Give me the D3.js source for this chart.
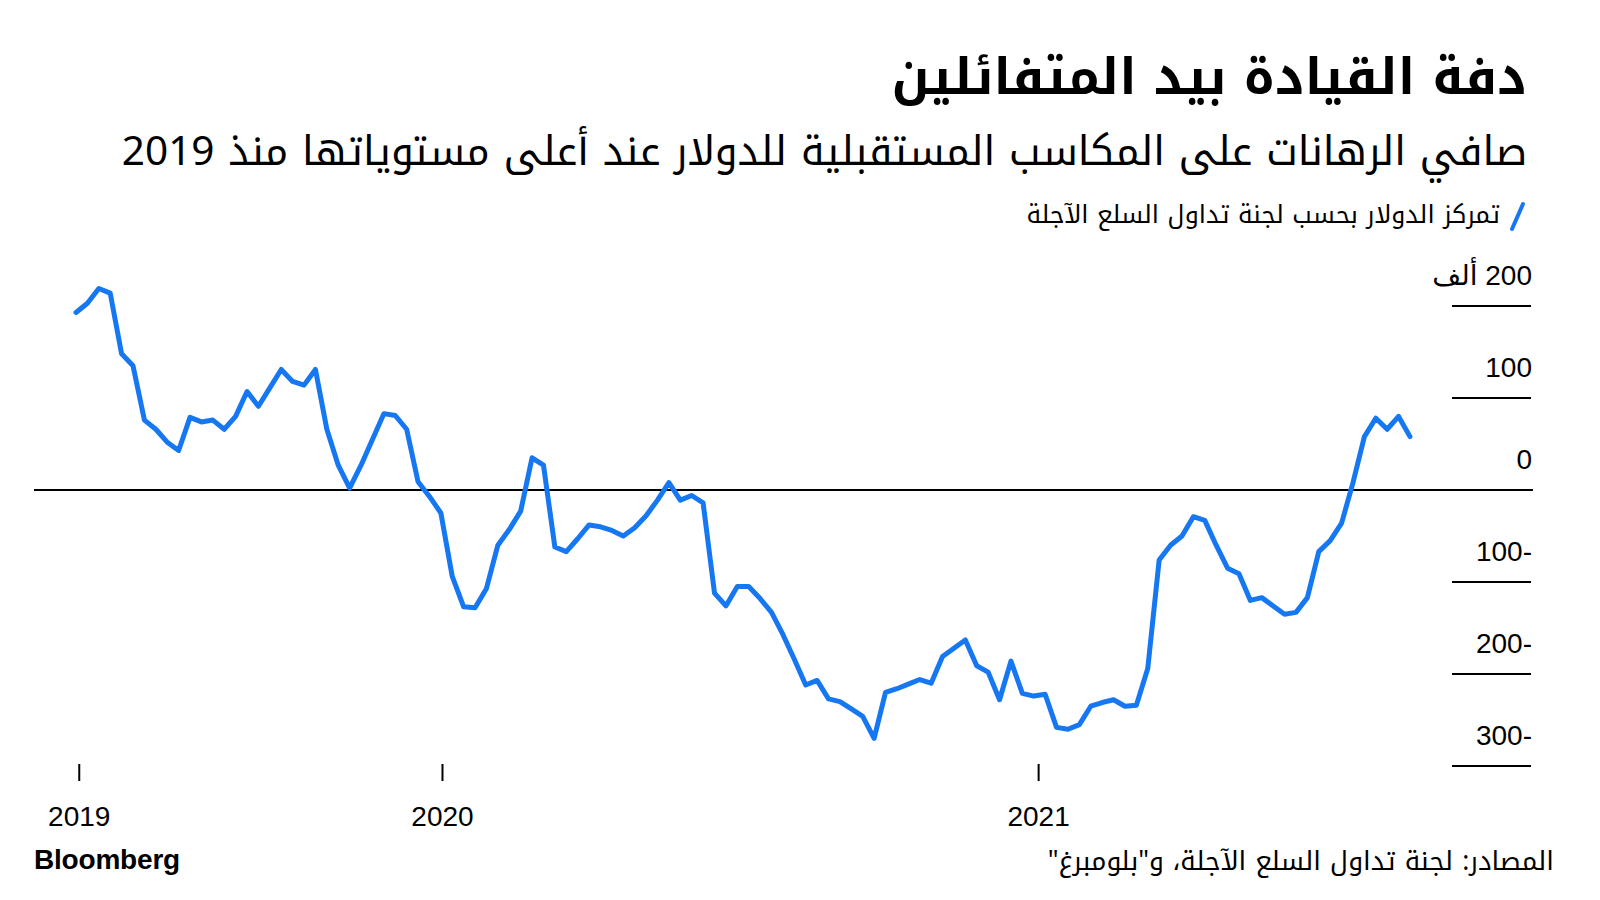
<!DOCTYPE html>
<html>
<head>
<meta charset="utf-8">
<script src="https://cdn.jsdelivr.net/npm/d3@7"></script>
<style>
  html, body { margin: 0; padding: 0; background: #fff; }
  svg { display: block; }
  .ar { font-family: "Noto Kufi Arabic", "Noto Sans Arabic", "DejaVu Sans", sans-serif; direction: rtl; unicode-bidi: embed; }
  .num { font-family: "Liberation Sans", Arial, "DejaVu Sans", sans-serif; }
</style>
</head>
<body>
<div id="chart"></div>
<script>
// ---- Data ----
const titleText = "دفة القيادة بيد المتفائلين";
const subtitleText = "صافي الرهانات على المكاسب المستقبلية للدولار عند أعلى مستوياتها منذ 2019";
const legendText = "تمركز الدولار بحسب لجنة تداول السلع الآجلة";
const sourceText = "المصادر: لجنة تداول السلع الآجلة، و\"بلومبرغ\"";
const brandText = "Bloomberg";

// weekly CFTC dollar positioning, thousands of contracts, first week 2019-05-21
const startDate = "2019-05-21";
const positions = [
  193, 203, 219, 214, 148, 135, 76, 66, 52, 43,
  79, 74, 76, 66, 80, 107, 91, 111, 131, 118,
  114, 131, 66, 27, 2, 27, 55, 83, 81, 66,
  9, -7, -25, -94, -127, -128, -107, -60, -43, -23,
  35, 27, -62, -67, -53, -38, -40, -44, -50, -41,
  -28, -11, 8, -11, -6, -14, -112, -126, -105, -105,
  -118, -133, -157, -184, -212, -207, -227, -230, -238, -246,
  -270, -220, -216, -211, -206, -210, -181, -172, -163, -191,
  -198, -228, -186, -221, -224, -222, -258, -260, -255, -235,
  -231, -228, -235, -234, -194, -76, -60, -50, -29, -33,
  -60, -85, -91, -120, -117, -126, -135, -133, -117, -67,
  -55, -36, 8, 58, 78, 66, 80, 58
];

const yTickValues = [200, 100, 0, -100, -200, -300];
const yTickLabels = ["200 ألف", "100", "0", "-100", "-200", "-300"];
const xTickDates = ["2019-05-23", "2020-01-01", "2021-01-01"];
const xTickLabels = ["2019", "2020", "2021"];

// ---- Build ----
const W = 1600, H = 900;
const parse = d3.utcParse("%Y-%m-%d");
const t0 = parse(startDate);
const series = positions.map((v, i) => ({ date: d3.utcDay.offset(t0, 7 * i), value: v }));

const svg = d3.select("#chart").append("svg")
  .attr("width", W).attr("height", H)
  .attr("viewBox", `0 0 ${W} ${H}`);
svg.append("rect").attr("width", W).attr("height", H).attr("fill", "#fff");

const x = d3.scaleUtc()
  .domain([series[0].date, series[series.length - 1].date])
  .range([76, 1410]);
const y = d3.scaleLinear().domain([-300, 200]).range([766, 306]);

// Title block
svg.append("text").attr("class", "ar")
  .attr("x", 1527).attr("y", 94)
  .attr("text-anchor", "start")
  .attr("font-size", 50).attr("font-weight", 700).attr("fill", "#000")
  .text(titleText);

svg.append("text").attr("class", "ar")
  .attr("x", 1527).attr("y", 165)
  .attr("text-anchor", "start")
  .attr("font-size", 40.5).attr("fill", "#000")
  .text(subtitleText);

// Legend
svg.append("line")
  .attr("x1", 1512).attr("y1", 229).attr("x2", 1523).attr("y2", 204)
  .attr("stroke", "#1677f2").attr("stroke-width", 4).attr("stroke-linecap", "round");
svg.append("text").attr("class", "ar")
  .attr("x", 1500).attr("y", 223)
  .attr("text-anchor", "start")
  .attr("font-size", 25).attr("fill", "#000")
  .text(legendText);

// Y axis: short rules + labels at right
const yAxisG = svg.append("g");
yTickValues.forEach((v, i) => {
  if (v !== 0) {
    yAxisG.append("line")
      .attr("x1", 1452).attr("x2", 1531)
      .attr("y1", y(v)).attr("y2", y(v))
      .attr("stroke", "#000").attr("stroke-width", 2);
  }
  yAxisG.append("text")
    .attr("class", "num")
    .attr("x", 1532).attr("y", y(v) - 21)
    .attr("text-anchor", "start")
    .style("direction", "rtl").style("unicode-bidi", "embed")
    .attr("font-size", 28).attr("fill", "#000")
    .text(yTickLabels[i]);
});

// Zero line
svg.append("line")
  .attr("x1", 34).attr("x2", 1533)
  .attr("y1", y(0)).attr("y2", y(0))
  .attr("stroke", "#000").attr("stroke-width", 2);

// X axis ticks + labels
const xAxisG = svg.append("g");
xTickDates.forEach((d, i) => {
  const xp = x(parse(d));
  xAxisG.append("line")
    .attr("x1", xp).attr("x2", xp).attr("y1", 764).attr("y2", 781)
    .attr("stroke", "#000").attr("stroke-width", 2);
  xAxisG.append("text").attr("class", "num")
    .attr("x", xp).attr("y", 826)
    .attr("text-anchor", "middle")
    .attr("font-size", 28).attr("fill", "#000")
    .text(xTickLabels[i]);
});

// Line
const line = d3.line().x(d => x(d.date)).y(d => y(d.value));
svg.append("path").datum(series)
  .attr("d", line)
  .attr("fill", "none")
  .attr("stroke", "#1677f2")
  .attr("stroke-width", 5)
  .attr("stroke-linejoin", "round")
  .attr("stroke-linecap", "round");

// Footer
svg.append("text")
  .attr("x", 34).attr("y", 869)
  .attr("font-family", "Liberation Sans, Arial, sans-serif")
  .attr("font-weight", 700).attr("font-size", 28)
  .attr("letter-spacing", -0.2)
  .attr("fill", "#000")
  .text(brandText);

svg.append("text").attr("class", "ar")
  .attr("x", 1554).attr("y", 870)
  .attr("text-anchor", "start")
  .attr("font-size", 26.5).attr("fill", "#000")
  .text(sourceText);
</script>
</body>
</html>
